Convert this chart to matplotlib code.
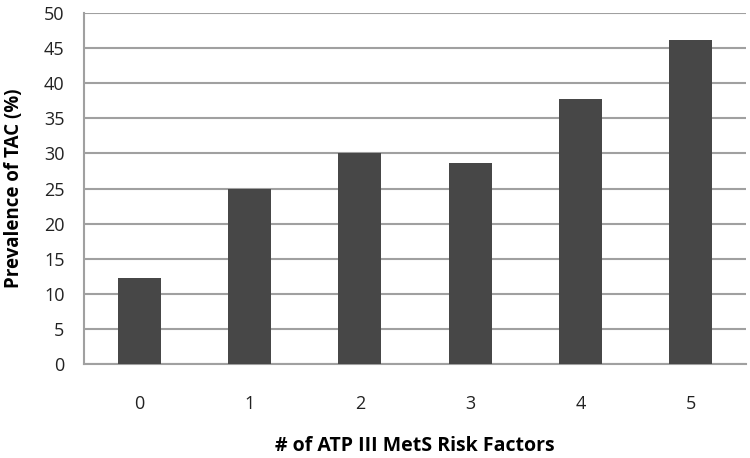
import matplotlib.pyplot as plt

# Data
risk_factors = ["0", "1", "2", "3", "4", "5"]
prevalence = [12.2, 25.0, 30.0, 28.7, 37.8, 46.2]
y_ticks = [0, 5, 10, 15, 20, 25, 30, 35, 40, 45, 50]

plt.rcParams["font.family"] = ["Open Sans", "DejaVu Sans"]

fig = plt.figure(figsize=(7.5, 4.58), dpi=100)
ax = fig.add_axes([84 / 750, 1 - 364 / 458, 662 / 750, 351 / 458])

x = range(len(risk_factors))
ax.bar(x, prevalence, width=0.39, color="#474747", zorder=3)

ax.set_xlim(-0.5, len(risk_factors) - 0.5)
ax.set_ylim(0, 50)
ax.set_yticks(y_ticks)
ax.set_xticks(list(x))
ax.set_xticklabels(risk_factors)

#Horizontal gridlines, gray axes, no tick marks
ax.yaxis.grid(True, color="#a0a0a0", linewidth=1.5, zorder=0)
ax.set_axisbelow(True)
for side in ["top", "right"]:
    ax.spines[side].set_visible(False)
for side in ["left", "bottom"]:
    ax.spines[side].set_color("#a0a0a0")
    ax.spines[side].set_linewidth(1.5)
ax.tick_params(axis="both", length=0, labelsize=13, colors="#222222")
ax.tick_params(axis="y", pad=14)
ax.tick_params(axis="x", pad=22)

ax.set_ylabel("Prevalence of TAC (%)", fontsize=13.5, fontweight="bold")
ax.set_xlabel("# of ATP III MetS Risk Factors", fontsize=14, fontweight="bold")
ax.yaxis.set_label_coords(-0.09, 0.5)
ax.xaxis.set_label_coords(0.5, -0.205)

plt.savefig("out.png", dpi=100)
plt.close()
